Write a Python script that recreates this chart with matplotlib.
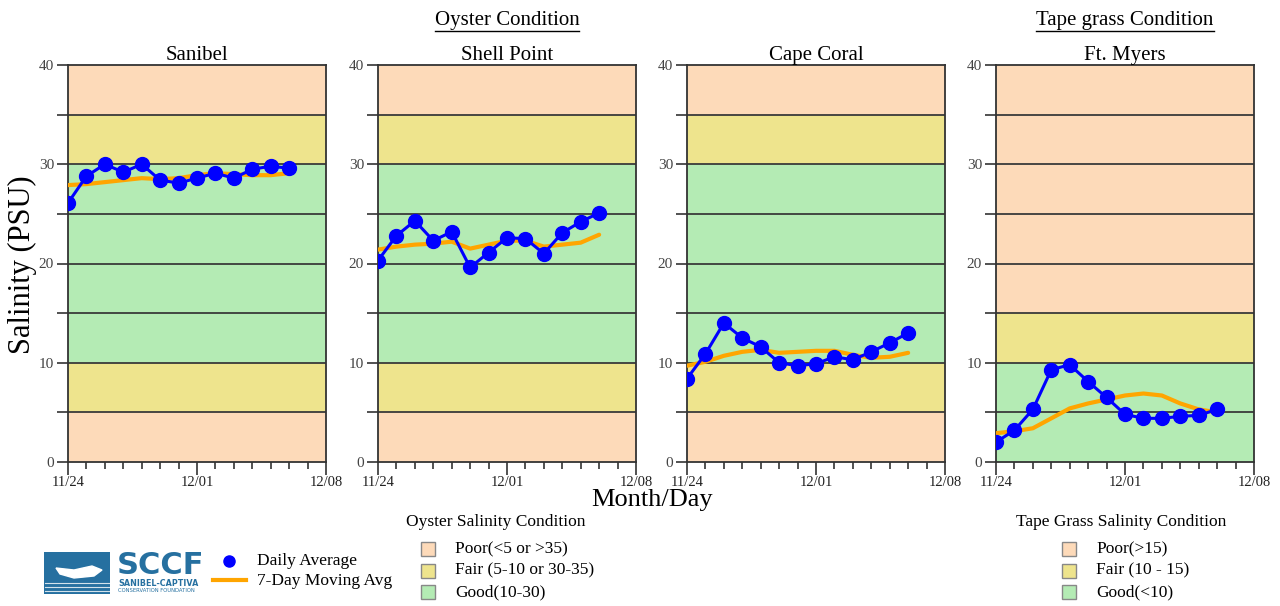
import matplotlib
matplotlib.use("Agg")
import matplotlib.pyplot as plt
import matplotlib.dates as mdates
from matplotlib.patches import Rectangle
from matplotlib.lines import Line2D
import numpy as np
import pandas as pd

plt.rcParams['font.family'] = ['Liberation Serif', 'DejaVu Serif']

# ---------------- data ----------------
dates = pd.date_range('2024-11-24', periods=13, freq='D')
x_start = pd.Timestamp('2024-11-24')
x_end = pd.Timestamp('2024-12-08')

sites = ['Sanibel', 'Shell Point', 'Cape Coral', 'Ft. Myers']

daily_sanibel = [26.1, 28.8, 30.0, 29.2, 30.0, 28.4, 28.1, 28.6, 29.1, 28.6, 29.5, 29.8, 29.6]
ma_sanibel = [27.9, 28.0, 28.2, 28.4, 28.6, 28.5, 28.6, 28.9, 29.1, 29.0, 28.9, 28.9, 29.1]

daily_shell = [20.3, 22.8, 24.3, 22.3, 23.2, 19.6, 21.1, 22.6, 22.5, 21.0, 23.1, 24.2, 25.1]
ma_shell = [21.4, 21.7, 21.9, 22.0, 22.2, 21.5, 21.9, 22.3, 22.3, 21.7, 21.9, 22.1, 22.9]

daily_cape = [8.4, 10.9, 14.0, 12.5, 11.6, 10.0, 9.7, 9.9, 10.6, 10.3, 11.1, 12.0, 13.0]
ma_cape = [9.7, 10.1, 10.7, 11.1, 11.3, 11.0, 11.1, 11.2, 11.2, 10.8, 10.5, 10.6, 11.0]

daily_ftmyers = [2.0, 3.2, 5.3, 9.3, 9.8, 8.1, 6.5, 4.8, 4.4, 4.4, 4.6, 4.7, 5.3]
ma_ftmyers = [2.9, 3.1, 3.4, 4.4, 5.4, 5.9, 6.3, 6.7, 6.9, 6.7, 5.9, 5.3, 5.0]

daily_all = [daily_sanibel, daily_shell, daily_cape, daily_ftmyers]
ma_all = [ma_sanibel, ma_shell, ma_cape, ma_ftmyers]

# condition bands (lower, upper, category)
oyster_bands = [(0, 5, 'poor'), (5, 10, 'fair'), (10, 30, 'good'), (30, 35, 'fair'), (35, 40, 'poor')]
tape_bands = [(0, 10, 'good'), (10, 15, 'fair'), (15, 40, 'poor')]
band_colors = {'poor': '#FDDAB9', 'fair': '#EEE48D', 'good': '#B4EBB4'}

oyster_labels = ['Poor(<5 or >35)', 'Fair (5-10 or 30-35)', 'Good(10-30)']
tape_labels = ['Poor(>15)', 'Fair (10 - 15)', 'Good(<10)']

y_ticks = [0, 10, 20, 30, 40]
x_tick_labels = ['11/24', '12/01', '12/08']

# ---------------- figure ----------------
W, H = 1280, 606
fig = plt.figure(figsize=(W / 100, H / 100), dpi=100)

def fx(px):
    return px / W

def fy(py):
    return 1 - py / H

lefts = [68, 378, 687, 996]
ax_w = 258
top, bottom = 65, 462

axes = []
for i, lp in enumerate(lefts):
    ax = fig.add_axes([fx(lp), fy(bottom), ax_w / W, (bottom - top) / H])
    axes.append(ax)
    bands = tape_bands if i == 3 else oyster_bands
    for lo, hi, cat in bands:
        ax.axhspan(lo, hi, color=band_colors[cat], lw=0, zorder=0)
    for yl in range(5, 40, 5):
        ax.axhline(yl, color='#3a3a3a', lw=1.3, zorder=1)
    ax.plot(dates, ma_all[i], color='#FFA500', lw=3, zorder=3, solid_capstyle='round')
    ax.plot(dates, daily_all[i], color='#0000FF', lw=2.2, marker='o', ms=10, zorder=4)
    ax.set_xlim(x_start, x_end)
    ax.set_ylim(0, 40)
    ax.set_yticks(y_ticks)
    ax.set_yticks(range(5, 40, 10), minor=True)
    ax.set_xticks([x_start, pd.Timestamp('2024-12-01'), x_end])
    ax.set_xticklabels(x_tick_labels)
    ax.xaxis.set_minor_locator(mdates.DayLocator())
    ax.tick_params(axis='y', which='both', length=8, width=1.2, color='#333333',
                   labelsize=11, labelcolor='#444444', pad=2)
    ax.tick_params(axis='x', which='major', length=9, width=1.2, color='#333333',
                   labelsize=10.5, labelcolor='#222222', pad=1)
    ax.tick_params(axis='x', which='minor', length=5, width=1.2, color='#333333')
    for s in ax.spines.values():
        s.set_color('#333333')
        s.set_linewidth(1.3)
    ax.set_title(sites[i], fontsize=15, pad=1)

# group headers (underlined)
def underlined(x, y, text, size):
    t = fig.text(fx(x), fy(y), text, ha='center', va='center', fontsize=size)
    fig.canvas.draw()
    bb = t.get_window_extent()
    fig.add_artist(Line2D([bb.x0 / W, bb.x1 / W], [bb.y0 / H - 0.002, bb.y0 / H - 0.002],
                          color='black', lw=1.0))

underlined(507, 20, 'Oyster Condition', 15)
underlined(1125, 20, 'Tape grass Condition', 15)

fig.text(fx(652), fy(500), 'Month/Day', ha='center', va='center', fontsize=19)
fig.text(fx(22), fy(265), 'Salinity (PSU)', ha='center', va='center', fontsize=22, rotation=90)

# series legend
fig.add_artist(Line2D([fx(229)], [fy(561)], marker='o', color='#0000FF', ms=8, ls='none'))
fig.add_artist(Line2D([fx(213), fx(246)], [fy(580), fy(580)], color='#FFA500', lw=3))
fig.text(fx(257), fy(561), 'Daily Average', ha='left', va='center', fontsize=12.5)
fig.text(fx(257), fy(581), '7-Day Moving Avg', ha='left', va='center', fontsize=12.5)

# condition legends
def cond_legend(title_x, title, patch_x, labels):
    fig.text(fx(title_x), fy(522), title, ha='left', va='center', fontsize=12.5)
    cats = ['poor', 'fair', 'good']
    for k, (lab, cat) in enumerate(zip(labels, cats)):
        yc = 549 + k * 21.5
        fig.add_artist(Rectangle((fx(patch_x - 7), fy(yc + 7)), 14 / W, 14 / H,
                                 facecolor=band_colors[cat], edgecolor='#888888', lw=1))
        fig.text(fx(patch_x + 27), fy(yc), lab, ha='left', va='center', fontsize=12.5)

cond_legend(406, 'Oyster Salinity Condition', 428, oyster_labels)
cond_legend(1016, 'Tape Grass Salinity Condition', 1069, tape_labels)

# logo
lax = fig.add_axes([fx(44), fy(596), 160 / W, 46 / H])
lax.set_xlim(0, 160)
lax.set_ylim(46, 0)
lax.axis('off')
logo_blue = '#2670a0'
lax.add_patch(Rectangle((0, 2), 66, 42, facecolor=logo_blue, edgecolor='none'))
for yy in [33, 37, 41]:
    lax.plot([1, 65], [yy, yy], color='white', lw=0.8, alpha=0.8)
lax.fill([12, 30, 48, 58, 50, 30, 16], [18, 20, 16, 20, 26, 28, 24], color='white')
lax.text(73, 16, 'SCCF', fontsize=22, fontweight='bold', color=logo_blue,
         family='DejaVu Sans', va='center', ha='left')
lax.text(74, 34, 'SANIBEL-CAPTIVA', fontsize=5.8, fontweight='bold', color=logo_blue,
         family='DejaVu Sans', va='center', ha='left')
lax.text(74, 41, 'CONSERVATION FOUNDATION', fontsize=3.8, color=logo_blue,
         family='DejaVu Sans', va='center', ha='left')

fig.savefig('out.png', dpi=100)
